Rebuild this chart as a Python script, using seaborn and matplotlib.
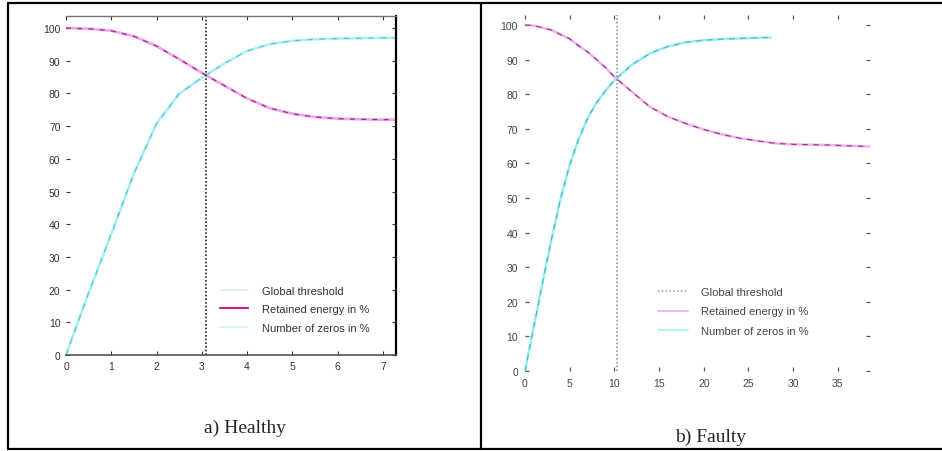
import numpy as np
import pandas as pd
import seaborn as sns
import matplotlib.pyplot as plt
from matplotlib.lines import Line2D

# healthy case (a)
healthy_x = [0, 0.5, 1.0, 1.5, 2.0, 2.5, 3.0, 3.5, 4.0, 4.5, 5.0, 5.5, 6.0, 6.5, 7.0, 7.25]
healthy_energy = [100, 99.8, 99.2, 97.5, 94.5, 90.5, 86.3, 82.4, 78.5, 75.5, 73.8, 72.8, 72.3, 72.1, 72.0, 72.0]
healthy_zeros = [0, 19, 37, 55.5, 70.8, 79.9, 84.8, 89.2, 93.0, 95.1, 96.1, 96.6, 96.8, 96.9, 97.0, 97.0]
healthy_threshold = 3.1

# faulty case (b)
faulty_x = [0, 1, 2, 3, 4, 5, 6, 7, 8, 9, 10, 12, 14, 16, 18, 20, 22, 24, 26, 28, 30, 32, 34, 36, 38.5]
faulty_energy = [100, 99.8, 99.2, 98.5, 97.2, 96.0, 94.0, 92.2, 90.0, 87.7, 85.0, 80.6, 76.3, 73.5, 71.5,
                 69.8, 68.4, 67.3, 66.5, 65.8, 65.5, 65.4, 65.3, 65.1, 64.9]
faulty_zeros_x = [0, 1, 2, 3, 4, 5, 6, 7, 8, 9, 10, 12, 14, 16, 18, 20, 22, 24, 26, 27.5]
faulty_zeros = [0, 13, 26, 38.5, 50, 59.5, 67, 73, 77.5, 81, 84, 88.6, 91.8, 93.8, 95.0, 95.6, 95.9, 96.1, 96.3, 96.4]
faulty_threshold = 10.25

legend_labels = ["Global threshold", "Retained energy in %", "Number of zeros in %"]
y_ticks = list(range(0, 101, 10))

W, H = 942, 452


def px_box(l, t, r, b):
    return [l / W, 1 - b / H, (r - l) / W, (b - t) / H]


sns.set_style("white")
plt.rcParams['font.family'] = ['Liberation Sans', 'DejaVu Sans']

fig = plt.figure(figsize=(W / 100, H / 100), dpi=100)

# table borders
for xs, ys in [([8, 942], [4, 4]), ([8, 942], [450, 450]), ([8, 8], [4, 450]), ([481, 481], [4, 450])]:
    fig.add_artist(Line2D([x / W for x in xs], [1 - y / H for y in ys],
                          transform=fig.transFigure, color='black', lw=1.6))

# ---- a) Healthy ----
ax1 = fig.add_axes(px_box(66, 17, 396, 356))
sns.lineplot(x=healthy_x, y=healthy_zeros, ax=ax1, color='#a8eef2', linewidth=1.8)
sns.lineplot(x=healthy_x, y=healthy_zeros, ax=ax1, color='#48c8d2', linewidth=0.8, linestyle=(0, (5, 6)))
sns.lineplot(x=healthy_x, y=healthy_energy, ax=ax1, color='#f0a8ec', linewidth=2.0)
sns.lineplot(x=healthy_x, y=healthy_energy, ax=ax1, color='#a02890', linewidth=0.9, linestyle=(0, (4, 5)))
ax1.axvline(healthy_threshold, color='#222222', lw=1.2, linestyle=(0, (1, 1.2)))
ax1.set_xlim(0, 7.29)
ax1.set_ylim(0, 103.7)
ax1.set_xticks(range(0, 8))
ax1.set_yticks(y_ticks)
ax1.tick_params(direction='in', length=3, width=0.8, color='#333333', labelsize=7.5,
                labelcolor='#333333', top=True, right=True, left=True, bottom=True, pad=4)
ax1.spines['left'].set_visible(False)
ax1.spines['top'].set_color('#777777')
ax1.spines['top'].set_linewidth(1.0)
ax1.spines['bottom'].set_color('#555555')
ax1.spines['bottom'].set_linewidth(1.2)
ax1.spines['right'].set_color('black')
ax1.spines['right'].set_linewidth(1.6)

h1 = [Line2D([], [], color='#d8f2f4', lw=1.2),
      Line2D([], [], color='#d0208c', lw=1.6),
      Line2D([], [], color='#c8f2f4', lw=1.2)]
ax1.legend(h1, legend_labels, loc='upper left', bbox_to_anchor=(220 / W, 1 - 287 / H),
           bbox_transform=fig.transFigure, frameon=False, fontsize=8, handlelength=2.5,
           handletextpad=1.3, labelspacing=0.75, borderpad=0, borderaxespad=0,
           labelcolor='#333333')

fig.text(245 / W, 1 - 428 / H, "a) Healthy", ha='center', va='center', fontsize=14,
         family=['Liberation Serif', 'DejaVu Serif'])

# ---- b) Faulty ----
ax2 = fig.add_axes(px_box(525, 15.6, 870, 372))
sns.lineplot(x=faulty_zeros_x, y=faulty_zeros, ax=ax2, color='#9ceaf0', linewidth=1.8)
sns.lineplot(x=faulty_zeros_x, y=faulty_zeros, ax=ax2, color='#38bcc8', linewidth=0.8, linestyle=(0, (5, 5)))
sns.lineplot(x=faulty_x, y=faulty_energy, ax=ax2, color='#f2b0ee', linewidth=1.8)
sns.lineplot(x=faulty_x, y=faulty_energy, ax=ax2, color='#8a3a80', linewidth=0.8, linestyle=(0, (5, 5)))
ax2.axvline(faulty_threshold, color='#888888', lw=1.1, linestyle=(0, (1, 1.5)))
ax2.set_xlim(0, 38.6)
ax2.set_ylim(0, 103)
ax2.set_xticks(range(0, 36, 5))
ax2.set_yticks(y_ticks)
ax2.tick_params(direction='in', length=3, width=0.9, color='#555555', labelsize=7.5,
                labelcolor='#444444', top=True, right=True, left=True, bottom=True, pad=5)
for s in ax2.spines.values():
    s.set_visible(False)

h2 = [Line2D([], [], color='#999999', lw=1.1, linestyle=(0, (1, 1.5))),
      Line2D([], [], color='#f0a8ea', lw=1.2),
      Line2D([], [], color='#b0eef2', lw=1.2)]
ax2.legend(h2, legend_labels, loc='upper left', bbox_to_anchor=(658 / W, 1 - 288 / H),
           bbox_transform=fig.transFigure, frameon=False, fontsize=8, handlelength=2.7,
           handletextpad=1.2, labelspacing=0.85, borderpad=0, borderaxespad=0,
           labelcolor='#444444')

fig.text(711 / W, 1 - 437 / H, "b) Faulty", ha='center', va='center', fontsize=14,
         family=['Liberation Serif', 'DejaVu Serif'])

plt.savefig("out.png", dpi=100)
